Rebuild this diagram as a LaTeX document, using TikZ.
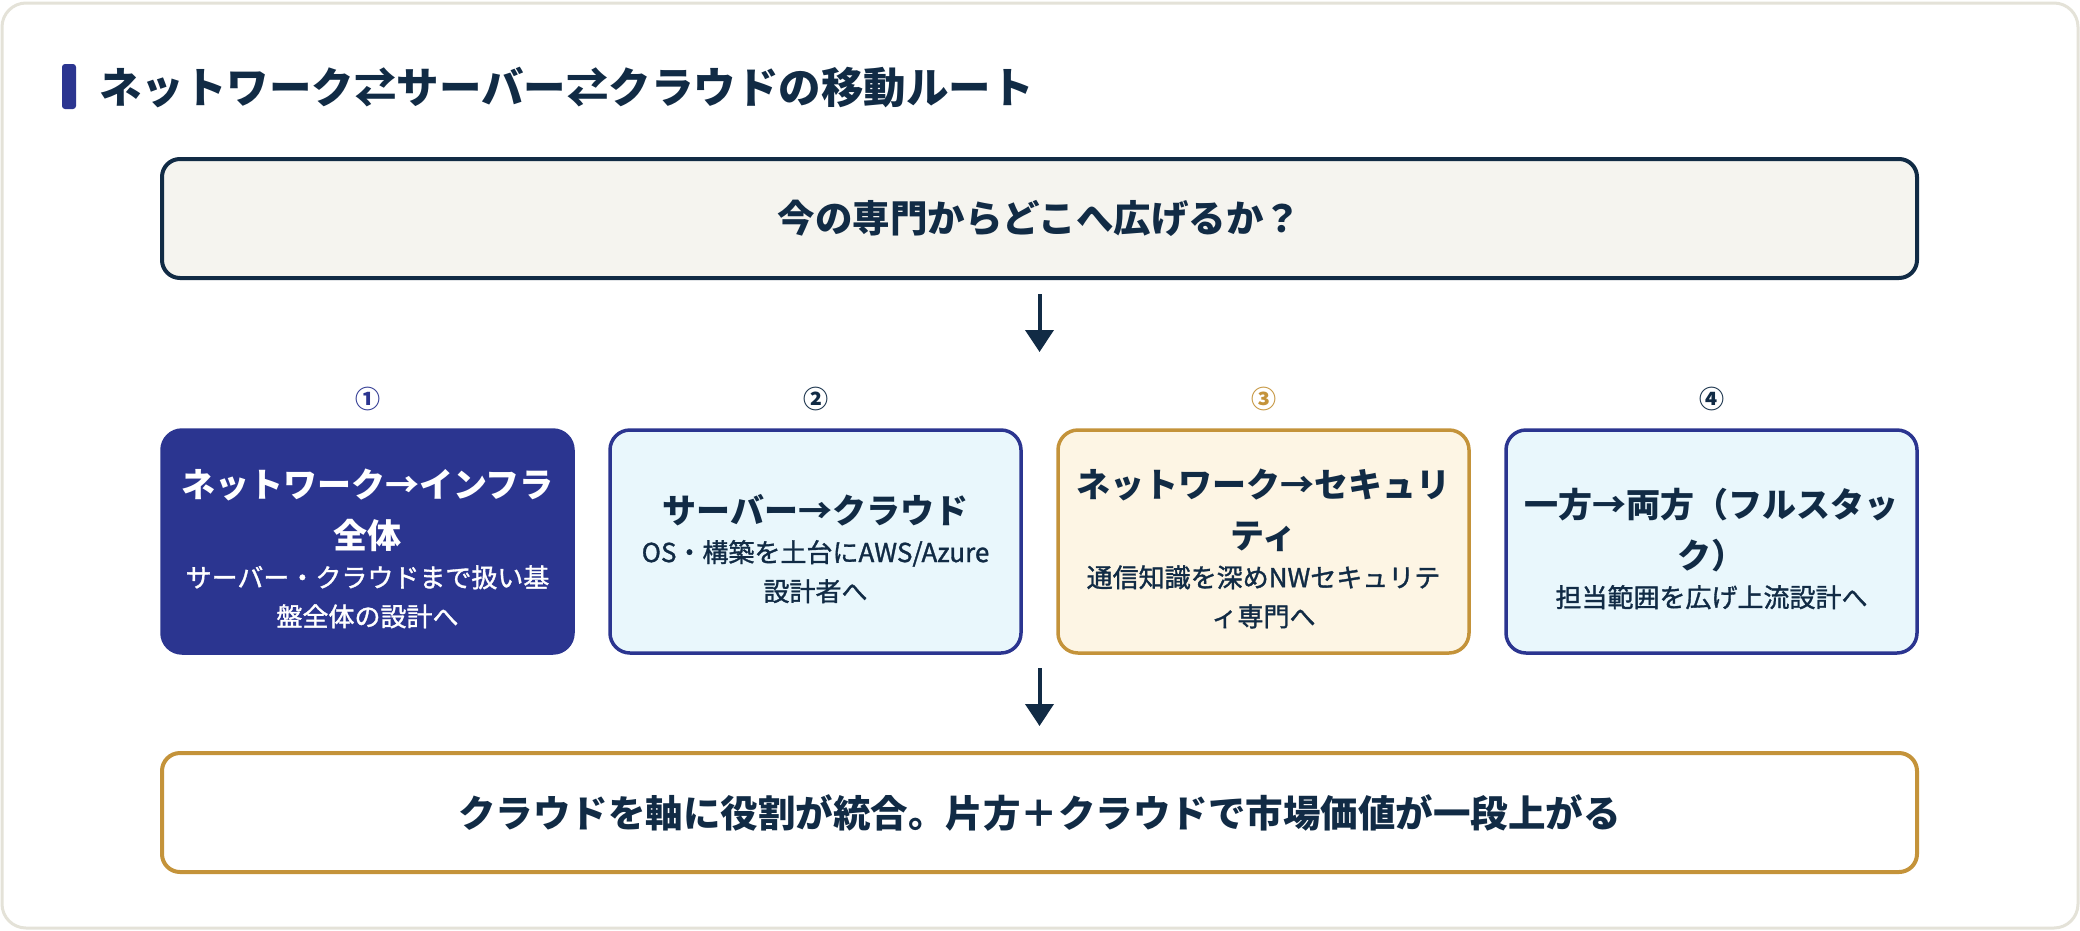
\documentclass[tikz,border=0pt]{standalone}
\usepackage{fontspec}
\setmainfont{Noto Sans CJK JP}
\newfontfamily\subfnt{Noto Sans CJK JP}[FakeBold=1.3]
\usetikzlibrary{arrows.meta}
\definecolor{navy}{HTML}{112B45}
\definecolor{blueA}{HTML}{2B3590}
\definecolor{gold}{HTML}{C4933A}
\definecolor{cyanfill}{HTML}{E9F7FC}
\definecolor{creamfill}{HTML}{FDF5E4}
\definecolor{topfill}{HTML}{F5F4EF}
\definecolor{frameline}{HTML}{E4E2D8}
\setlength{\parindent}{0pt}
\newcommand{\bxt}{\fontsize{34}{51}\selectfont\bfseries}
\newcommand{\bxs}{\normalfont\subfnt\fontsize{26}{39}\selectfont}
\begin{document}
\begin{tikzpicture}[x=1pt,y=-1pt,
  bigbox/.style={rounded corners=18pt, line width=4pt, minimum width=1755pt, minimum height=119pt,
    font=\fontsize{37.5}{45}\selectfont\bfseries, text=navy, inner sep=0pt},
  card/.style={rounded corners=20pt, line width=3.5pt, minimum width=411pt, minimum height=223pt, inner sep=0pt},
  cardtext/.style={text width=400pt, align=center, inner sep=0pt, text=navy},
  num/.style={font=\fontsize{25}{30}\selectfont\bfseries, inner sep=0pt},
  arr/.style={line width=4pt, draw=navy, -{Triangle[width=28pt,length=22pt]}}]
\useasboundingbox (0,0) rectangle (2080,930);
% outer frame
\draw[draw=frameline, line width=3pt, fill=white, rounded corners=24pt] (2,3) rectangle (2078,928);
% title
\fill[blueA, rounded corners=3pt] (62,64) rectangle (76,109);
\node[anchor=west, inner sep=0pt, font=\fontsize{42.5}{51}\selectfont\bfseries, text=navy] (title) at (99,88)
  {ネットワーク⇄サーバー⇄クラウドの移動ルート};
% question box
\node[bigbox, draw=navy, fill=topfill] (q) at (1039.5,218.5) {今の専門からどこへ広げるか？};
\coordinate (a1e) at (1039.5,352);
\draw[arr, shorten <=14pt] (q.south) -- (a1e);
% numbers
\node[num, text=blueA] (n1) at (367.5,399) {①};
\node[num, text=navy] (n2) at (815.5,399) {②};
\node[num, text=gold] (n3) at (1263.5,399) {③};
\node[num, text=navy] (n4) at (1711.5,399) {④};
% cards
\node[card, fill=blueA, draw=blueA] (b1) at (367.5,541.5) {};
\node[card, fill=cyanfill, draw=blueA] (b2) at (815.5,541.5) {};
\node[card, fill=creamfill, draw=gold] (b3) at (1263.5,541.5) {};
\node[card, fill=cyanfill, draw=blueA] (b4) at (1711.5,541.5) {};
\node[cardtext, text=white] (t1) at ([yshift=-7pt]b1.center)
  {\bxt ネットワーク→インフラ\\全体\par\bxs サーバー・クラウドまで扱い基\\盤全体の設計へ\par};
\node[cardtext] (t2) at ([yshift=-7pt]b2.center)
  {\bxt サーバー→クラウド\par\bxs OS・構築を土台にAWS/Azure\\設計者へ\par};
\node[cardtext] (t3) at ([yshift=-7pt]b3.center)
  {\bxt ネットワーク→セキュリ\\ティ\par\bxs 通信知識を深めNWセキュリテ\\ィ専門へ\par};
\node[cardtext] (t4) at ([yshift=-7pt]b4.center)
  {\bxt 一方→両方（フルスタッ\\ク）\par\bxs 担当範囲を広げ上流設計へ\par};
% result box
\node[bigbox, draw=gold, fill=white] (r) at (1039.5,812.5) {クラウドを軸に役割が統合。片方＋クラウドで市場価値が一段上がる};
\coordinate (a2s) at (1039.5,668);
\coordinate (a2e) at (1039.5,726);
\draw[arr] (a2s) -- (a2e);
\end{tikzpicture}
\end{document}
